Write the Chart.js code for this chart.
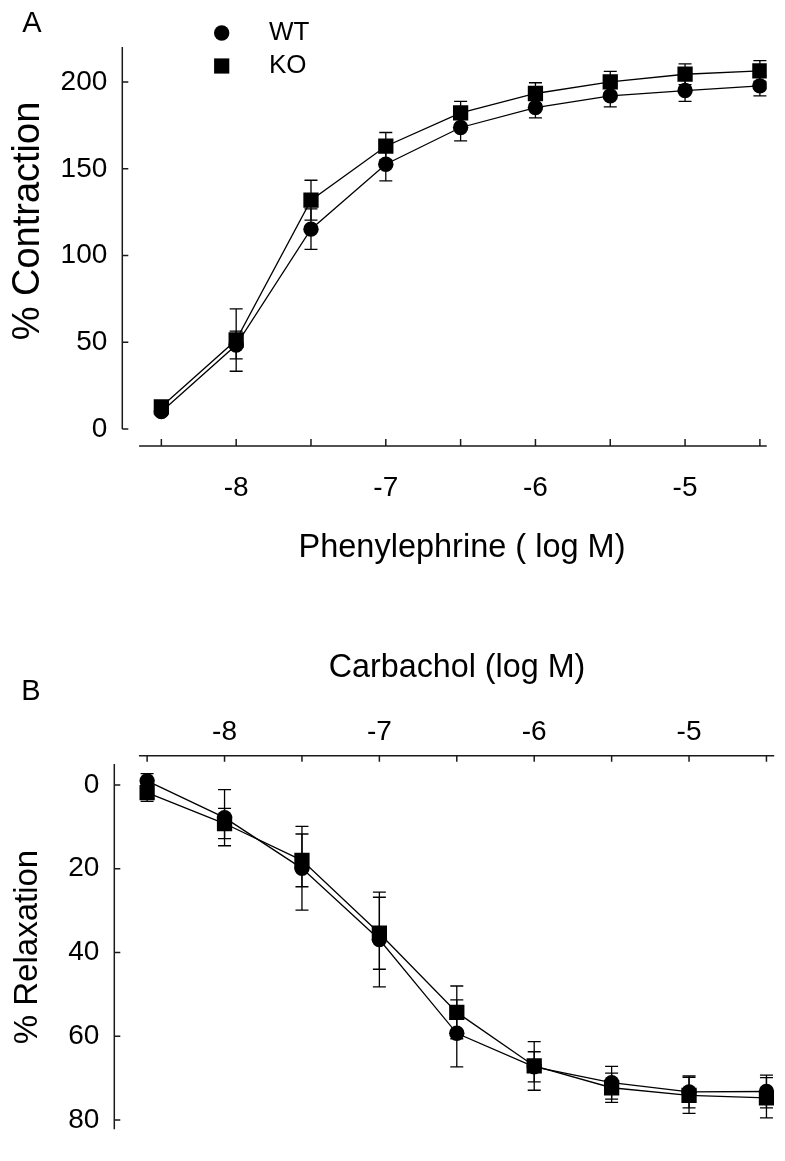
<!DOCTYPE html>
<html>
<head>
<meta charset="utf-8">
<script src="https://cdn.jsdelivr.net/npm/chart.js@4.4.1/dist/chart.umd.min.js"></script>
<style>
  html, body { margin: 0; padding: 0; background: #fff; }
  .panel { position: relative; width: 785px; }
  #panel-a { height: 600px; }
  #panel-b { height: 561px; }
</style>
</head>
<body>
<div class="panel" id="panel-a"><canvas id="chart-a"></canvas></div>
<div class="panel" id="panel-b"><canvas id="chart-b"></canvas></div>
<script>
// doses, log M (same for both panels)
const doses = [-8.5, -8, -7.5, -7, -6.5, -6, -5.5, -5, -4.5];
const xTicks = [-8.5, -8, -7.5, -7, -6.5, -6, -5.5, -5, -4.5];
const xLabels = [-8, -7, -6, -5];

// A - phenylephrine, % contraction
const pheWT    = [10, 48.4, 115.2, 152.6, 173.8, 185.3, 192, 195.1, 197.8];
const pheWTerr = [2, 8, 11.7, 9.6, 7.7, 6, 6.3, 6.2, 5.8];
const pheKO    = [12.8, 51.3, 131.9, 163, 182.2, 193.4, 200.1, 204.5, 206.4];
const pheKOerr = [2, 18, 11.5, 7.9, 6.7, 6.2, 6, 6, 6];
const pheYTicks = [0, 50, 100, 150, 200];

// B - carbachol, % relaxation
const carbWT    = [-1.0, 7.8, 19.9, 36.9, 59.3, 67.3, 71.1, 73.3, 73.2];
const carbWTerr = [1.7, 6.7, 10, 11.3, 8, 3.6, 3.9, 3.8, 3.9];
const carbKO    = [1.8, 9.2, 18.0, 35.4, 54.3, 67.1, 72.3, 74.1, 74.7];
const carbKOerr = [2.1, 3.6, 6.3, 8.6, 6.3, 5.8, 3.5, 4.3, 4.8];
const carbYTicks = [0, 20, 40, 60, 80];

Chart.defaults.font.family = '"Liberation Sans", Arial, Helvetica, sans-serif';
Chart.defaults.color = '#000';

function series(label, ys, errs, style, radius) {
    return {
        label: label,
        data: doses.map((d, i) => ({ x: d, y: ys[i] })),
        errors: errs,
        showLine: true,
        borderColor: '#000',
        borderWidth: 1.3,
        backgroundColor: '#000',
        pointStyle: style,
        pointRadius: radius,
        pointHoverRadius: radius,
        pointBorderWidth: 0,
        tension: 0
    };
}

// error bars with caps, drawn under the markers
const errorBars = {
    id: 'errorBars',
    beforeDatasetsDraw(chart) {
        const ctx = chart.ctx, xs = chart.scales.x, ys = chart.scales.y;
        ctx.save();
        ctx.strokeStyle = '#000';
        ctx.lineWidth = 1.3;
        chart.data.datasets.forEach(ds => {
            ds.data.forEach((p, i) => {
                const e = ds.errors[i];
                const px = xs.getPixelForValue(p.x);
                const t = ys.getPixelForValue(p.y + e);
                const b = ys.getPixelForValue(p.y - e);
                ctx.beginPath();
                ctx.moveTo(px, t); ctx.lineTo(px, b);
                ctx.moveTo(px - 6.5, t); ctx.lineTo(px + 6.5, t);
                ctx.moveTo(px - 6.5, b); ctx.lineTo(px + 6.5, b);
                ctx.stroke();
            });
        });
        ctx.restore();
    }
};

// sigmaplot style detached axes, ticks pointing inward
const offsetAxes = {
    id: 'offsetAxes',
    afterDraw(chart, args, opts) {
        const ctx = chart.ctx, xs = chart.scales.x, ys = chart.scales.y, area = chart.chartArea;
        ctx.save();
        ctx.strokeStyle = '#1a1a1a';
        ctx.lineWidth = 1.5;
        ctx.beginPath();
        const ax = area.left;
        ctx.moveTo(ax, ys.getPixelForValue(opts.yFrom));
        ctx.lineTo(ax, ys.getPixelForValue(opts.yTo));
        ys.ticks.forEach(t => {
            const py = ys.getPixelForValue(t.value);
            ctx.moveTo(ax, py); ctx.lineTo(ax + 6, py);
        });
        const ay = opts.xTop ? area.top : area.bottom;
        ctx.moveTo(xs.getPixelForValue(opts.xFrom), ay);
        ctx.lineTo(area.right, ay);
        xs.ticks.forEach(t => {
            const px = xs.getPixelForValue(t.value);
            ctx.moveTo(px, ay); ctx.lineTo(px, ay + (opts.xTop ? 6 : -7));
        });
        ctx.stroke();
        ctx.restore();
    }
};

// panel letter, axis titles, legend
const extras = {
    id: 'extras',
    afterDraw(chart, args, opts) {
        const ctx = chart.ctx;
        ctx.save();
        ctx.fillStyle = '#000';
        ctx.textBaseline = 'middle';
        (opts.texts || []).forEach(t => {
            ctx.save();
            ctx.font = t.size + 'px ' + Chart.defaults.font.family;
            ctx.textAlign = t.align || 'center';
            ctx.translate(t.x, t.y);
            if (t.rotate) ctx.rotate(t.rotate);
            ctx.fillText(t.text, 0, 0);
            ctx.restore();
        });
        if (opts.legend) {
            const lg = opts.legend;
            ctx.font = lg.size + 'px ' + Chart.defaults.font.family;
            ctx.textAlign = 'left';
            chart.data.datasets.forEach((ds, i) => {
                const y = lg.y[i];
                ctx.beginPath();
                if (ds.pointStyle === 'circle') {
                    ctx.arc(lg.x, y, 7.7, 0, Math.PI * 2);
                } else {
                    ctx.rect(lg.x - 7.6, y - 7.6, 15.2, 15.2);
                }
                ctx.fill();
                ctx.fillText(ds.label, lg.textX, y);
            });
        }
        ctx.restore();
    }
};

function xScale(opts) {
    return {
        type: 'linear',
        position: opts.position,
        min: opts.min, max: opts.max,
        afterBuildTicks: s => { s.ticks = xTicks.map(v => ({ value: v })); },
        afterFit: s => { s.height = opts.height; },
        grid: { display: false, drawTicks: false },
        border: { display: false },
        ticks: {
            autoSkip: false, maxRotation: 0, padding: opts.tickPad,
            font: { size: 28 },
            callback: v => xLabels.includes(v) ? String(v) : ''
        }
    };
}

function yScale(opts) {
    return {
        type: 'linear',
        min: opts.min, max: opts.max, reverse: !!opts.reverse,
        afterBuildTicks: s => { s.ticks = opts.ticks.map(v => ({ value: v })); },
        afterFit: s => { s.width = opts.width; },
        grid: { display: false, drawTicks: false },
        border: { display: false },
        ticks: { padding: 15, font: { size: 28 } }
    };
}

new Chart(document.getElementById('chart-a'), {
    type: 'scatter',
    data: {
        datasets: [
            series('WT', pheWT, pheWTerr, 'circle', 7.7),
            series('KO', pheKO, pheKOerr, 'rect', 10.8)
        ]
    },
    options: {
        responsive: true,
        maintainAspectRatio: false,
        animation: false,
        layout: { padding: { top: 47, right: 8, left: 0, bottom: 0 } },
        scales: {
            x: xScale({ position: 'bottom', min: -8.761, max: -4.454, height: 154, tickPad: 25 }),
            y: yScale({ min: -9.8, max: 220.2, width: 122.3, ticks: pheYTicks })
        },
        plugins: {
            legend: { display: false },
            tooltip: { enabled: false },
            offsetAxes: { yFrom: 0, yTo: 220.2, xFrom: -8.649, xTop: false },
            extras: {
                texts: [
                    { text: 'A', x: 32, y: 24, size: 29 },
                    { text: '% Contraction', x: 28.5, y: 221, size: 38, rotate: -Math.PI / 2 },
                    { text: 'Phenylephrine ( log M)', x: 462, y: 548.5, size: 32.5 }
                ],
                legend: { x: 221.7, y: [33, 66], textX: 269, size: 26 }
            }
        }
    },
    plugins: [errorBars, offsetAxes, extras]
});

new Chart(document.getElementById('chart-b'), {
    type: 'scatter',
    data: {
        datasets: [
            series('WT', carbWT, carbWTerr, 'circle', 7.7),
            series('KO', carbKO, carbKOerr, 'rect', 10.8)
        ]
    },
    options: {
        responsive: true,
        maintainAspectRatio: false,
        animation: false,
        layout: { padding: { top: 0, right: 8, left: 0, bottom: 4 } },
        scales: {
            x: xScale({ position: 'top', min: -8.712, max: -4.45, height: 155.7, tickPad: 6.2 }),
            y: yScale({ min: -7, max: 82.2, reverse: true, width: 114.3, ticks: carbYTicks })
        },
        plugins: {
            legend: { display: false },
            tooltip: { enabled: false },
            offsetAxes: { yFrom: -5, yTo: 82.2, xFrom: -8.553, xTop: true },
            extras: {
                texts: [
                    { text: 'B', x: 31, y: 91.7, size: 29 },
                    { text: '% Relaxation', x: 27.5, y: 347, size: 33, rotate: -Math.PI / 2 },
                    { text: 'Carbachol (log M)', x: 457, y: 68, size: 32.3 }
                ]
            }
        }
    },
    plugins: [errorBars, offsetAxes, extras]
});
</script>
</body>
</html>
